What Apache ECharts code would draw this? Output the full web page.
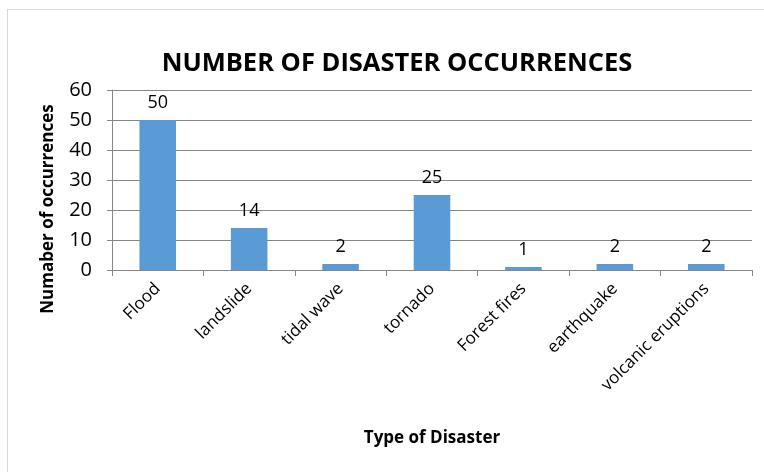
<!DOCTYPE html>
<html>
<head>
<meta charset="UTF-8"/>
<title>Number of disaster occurrences</title>
<script src="https://cdn.jsdelivr.net/npm/echarts@6/dist/echarts.min.js"></script>
<style>
  html, body { margin: 0; padding: 0; background: #fff; }
  #frame { position: absolute; left: 7px; top: 9px; width: 770px; height: 480px; border: 1px solid #d9d9d9; box-sizing: border-box; }
  #chart { position: absolute; left: 0; top: 0; width: 764px; height: 472px; }
</style>
</head>
<body>
<div id="frame"></div>
<div id="chart"></div>
<script>
var categories = ['Flood', 'landslide', 'tidal wave', 'tornado', 'Forest fires', 'earthquake', 'volcanic eruptions'];
var occurrences = [50, 14, 2, 25, 1, 2, 2];
var yTicks = { min: 0, max: 60, step: 10 };

var font = '"Open Sans", "Liberation Sans", sans-serif';
var chart = echarts.init(document.getElementById('chart'));

var option = {
    animation: false,
    title: {
        text: 'NUMBER OF DISASTER OCCURRENCES',
        left: 392,
        textAlign: 'center',
        top: 46,
        textStyle: { fontFamily: font, fontSize: 25.5, fontWeight: 'bold', color: '#000' }
    },
    grid: { left: 112, right: 12, top: 90, bottom: 202, containLabel: false },
    xAxis: {
        type: 'category',
        data: categories,
        name: 'Type of Disaster',
        nameLocation: 'middle',
        nameGap: 160,
        nameTextStyle: { fontFamily: font, fontSize: 17, fontWeight: 'bold', color: '#000' },
        axisLine: { lineStyle: { color: '#868686' } },
        axisTick: { show: true, length: 6, lineStyle: { color: '#868686' } },
        axisLabel: { rotate: 45, fontFamily: font, fontSize: 17, color: '#000', margin: 16, interval: 0 }
    },
    yAxis: {
        type: 'value',
        min: yTicks.min,
        max: yTicks.max,
        interval: yTicks.step,
        name: 'Numaber of occurrences',
        nameLocation: 'middle',
        nameGap: 55,
        nameTextStyle: { fontFamily: font, fontSize: 17, fontWeight: 'bold', color: '#000', padding: [0, 58, 0, 0] },
        axisLine: { show: true, lineStyle: { color: '#868686' } },
        axisTick: { show: true, length: 5, lineStyle: { color: '#868686' } },
        axisLabel: { fontFamily: font, fontSize: 20, color: '#000', margin: 20 },
        splitLine: { lineStyle: { color: '#868686' } }
    },
    series: [{
        type: 'bar',
        data: occurrences,
        barWidth: '40%',
        itemStyle: { color: '#5b9bd5' },
        label: { show: true, position: 'top', distance: 8, fontFamily: font, fontSize: 18, color: '#000' }
    }]
};
chart.setOption(option);
</script>
</body>
</html>
